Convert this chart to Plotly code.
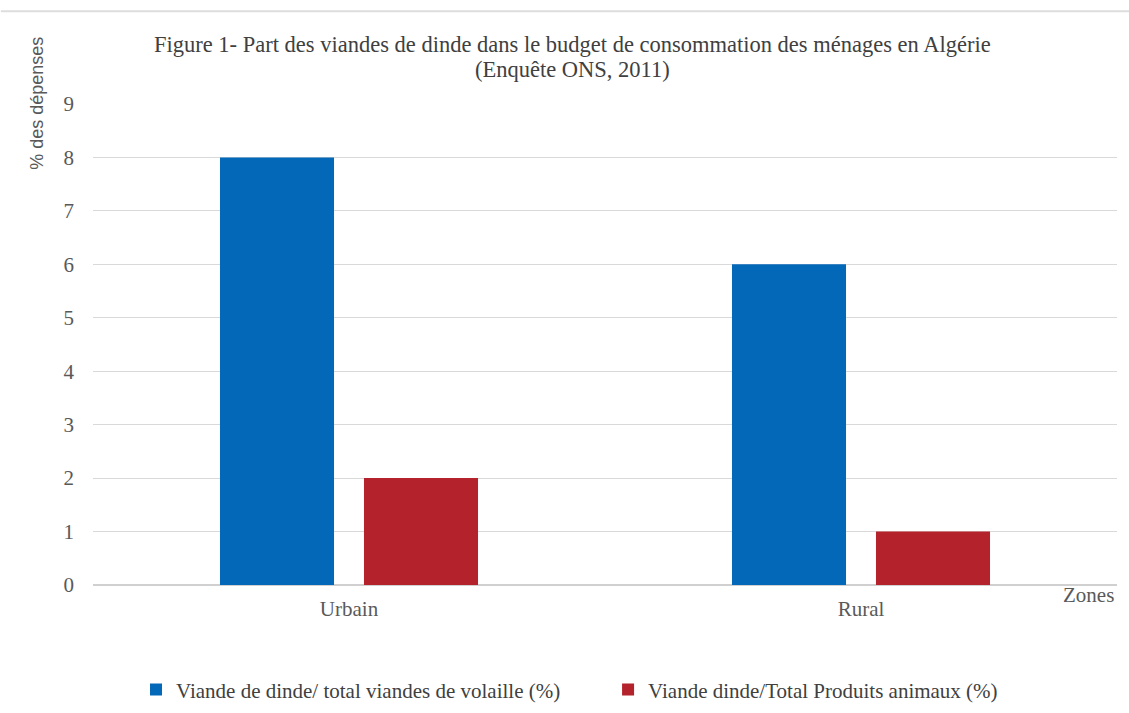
import plotly.graph_objects as go

categories = ["Urbain", "Rural"]
series_names = ["Viande de dinde/ total viandes de volaille (%)",
                "Viande dinde/Total Produits animaux (%)"]
volaille = [8, 6]
animaux = [2, 1]
y_ticks = [0, 1, 2, 3, 4, 5, 6, 7, 8, 9]
title_lines = ["Figure 1- Part des viandes de dinde dans le budget de consommation des ménages en Algérie",
               "(Enquête ONS, 2011)"]

serif = "Liberation Serif, Times New Roman, serif"

fig = go.Figure()
fig.add_trace(go.Bar(x=categories, y=volaille, name=series_names[0], legend="legend",
                     marker=dict(color="#0468B8", line=dict(width=0))))
fig.add_trace(go.Bar(x=categories, y=animaux, name=series_names[1], legend="legend2",
                     marker=dict(color="#B4232B", line=dict(width=0))))

legend_common = dict(orientation="h", xanchor="left", yref="paper",
                     y=-0.218, yanchor="middle",
                     font=dict(family=serif, size=21, color="#404040"),
                     itemwidth=30)

fig.update_layout(
    width=1129, height=713,
    margin=dict(l=93, r=12, t=104, b=128, autoexpand=False),
    paper_bgcolor="white", plot_bgcolor="white",
    barmode="group", bargap=0.4375, bargroupgap=0.208,
    font=dict(family=serif, size=21, color="#595959"),
    xaxis=dict(showgrid=False, showline=True, linecolor="#d0d0d0", linewidth=1,
               ticks="", ticklabelstandoff=5,
               tickfont=dict(family=serif, size=21, color="#595959")),
    yaxis=dict(range=[0, 9], tickvals=y_ticks, showgrid=True, gridcolor="#d9d9d9",
               gridwidth=1, zeroline=True, zerolinecolor="#d0d0d0", showline=False,
               ticks="", ticklabelstandoff=18,
               tickfont=dict(family=serif, size=21, color="#595959")),
    legend=dict(x=0.042, **legend_common),
    legend2=dict(x=0.503, **legend_common),
    showlegend=True,
)

fig.add_annotation(text=title_lines[0], xref="paper", yref="paper",
                   x=0.468, y=1.1227, xanchor="center", yanchor="middle",
                   showarrow=False, font=dict(family=serif, size=22.5, color="#404040"))
fig.add_annotation(text=title_lines[1], xref="paper", yref="paper",
                   x=0.468, y=1.0707, xanchor="center", yanchor="middle",
                   showarrow=False, font=dict(family=serif, size=22.5, color="#404040"))
fig.add_annotation(text="% des dépenses", xref="paper", yref="paper",
                   x=-0.055, y=1.002, xanchor="center", yanchor="middle",
                   textangle=-90, showarrow=False,
                   font=dict(family="Liberation Sans, Arial, sans-serif", size=18, color="#595959"))
fig.add_annotation(text="Zones", xref="paper", yref="paper",
                   x=0.999, y=0.008, xanchor="right", yanchor="top",
                   showarrow=False, font=dict(family=serif, size=21, color="#595959"))
fig.add_shape(type="line", xref="paper", yref="paper", x0=-0.09, x1=1.012,
              y0=1.193, y1=1.193, line=dict(color="#dddddd", width=2))

fig.write_html("out.html")
